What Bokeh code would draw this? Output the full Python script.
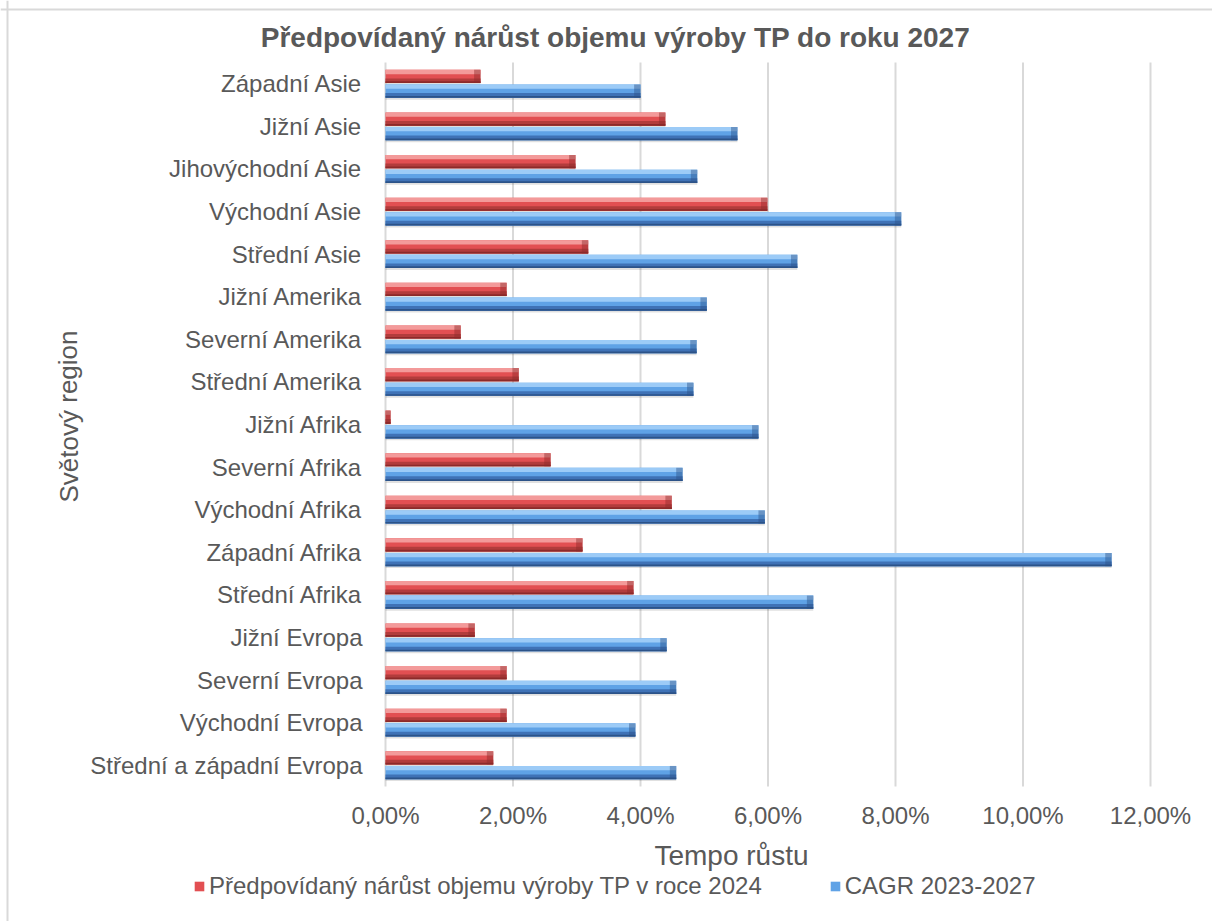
from bokeh.plotting import figure
from bokeh.models import (ColumnDataSource, Range1d, Legend, LegendItem, Label, Span)
from bokeh.core.properties import value
from bokeh.transform import dodge
from bokeh.embed import file_html
from bokeh.resources import INLINE

# ---- data (top to bottom as in the chart) ----
regions = ["Západní Asie", "Jižní Asie", "Jihovýchodní Asie", "Východní Asie", "Střední Asie",
           "Jižní Amerika", "Severní Amerika", "Střední Amerika", "Jižní Afrika", "Severní Afrika",
           "Východní Afrika", "Západní Afrika", "Střední Afrika", "Jižní Evropa", "Severní Evropa",
           "Východní Evropa", "Střední a západní Evropa"]
growth_2024 = [1.49, 4.39, 2.98, 5.99, 3.18, 1.90, 1.18, 2.09, 0.08, 2.59,
               4.49, 3.09, 3.89, 1.40, 1.90, 1.90, 1.69]
cagr_2023_2027 = [4.00, 5.52, 4.89, 8.09, 6.46, 5.04, 4.88, 4.83, 5.85, 4.66,
                  5.95, 11.39, 6.71, 4.41, 4.56, 3.92, 4.56]
x_ticks = [0, 2, 4, 6, 8, 10, 12]
x_tick_labels = ["0,00%", "2,00%", "4,00%", "6,00%", "8,00%", "10,00%", "12,00%"]

series_1 = "Předpovídaný nárůst objemu výroby TP v roce 2024"
series_2 = "CAGR 2023-2027"
title_text = "Předpovídaný nárůst objemu výroby TP do roku 2027"
x_title = "Tempo růstu"
y_title = "Světový region"

FONT = "Liberation Sans"
TXT = "#595959"
GRID = "#d9d9d9"

# ---- layout constants (pixels) ----
W, H = 1212, 921
PX0, PX12 = 385, 1150          # plot area left / right
PY_TOP, PY_BOT = 62, 786       # plot area top / bottom
X_MAX = 12.0
N = len(regions)
SX = (PX12 - PX0) / X_MAX      # px per percent
SY = (PY_BOT - PY_TOP) / N     # px per category

def xd(px):
    return (px - PX0) / SX

def yd(py):
    return (PY_BOT - py) / SY

ypos = [N - 0.5 - i for i in range(N)]

src = ColumnDataSource(dict(
    region=regions, y=ypos, g=growth_2024, c=cagr_2023_2027,
    g_tip=[max(0.0, v - 0.1) for v in growth_2024],
    c_tip=[max(0.0, v - 0.1) for v in cagr_2023_2027],
))

p = figure(width=W, height=H, output_backend="svg", toolbar_location=None,
           x_range=Range1d(xd(0), xd(W)), y_range=Range1d(yd(H), yd(0)),
           min_border=0, min_border_left=0, min_border_right=0,
           min_border_top=0, min_border_bottom=0)
p.axis.visible = False
p.grid.visible = False
p.outline_line_color = None
p.background_fill_color = "white"
p.border_fill_color = "white"

# chart border (top / left)
p.add_layout(Span(location=xd(7), dimension="height", line_color=GRID, line_width=2))
p.add_layout(Span(location=yd(9), dimension="width", line_color=GRID, line_width=2))

# vertical gridlines
grid_src = ColumnDataSource(dict(x=x_ticks, lab=x_tick_labels,
                                 y0=[0] * len(x_ticks), y1=[N] * len(x_ticks)))
p.segment(x0="x", x1="x", y0="y0", y1="y1", source=grid_src, line_color=GRID, line_width=2)

# x tick labels
p.text(x="x", y=yd(815), text="lab", source=grid_src, text_font=value(FONT),
       text_font_size="24px", text_color=TXT, text_align="center", text_baseline="middle")

# category labels
p.text(x=0, y="y", text="region", source=src, x_offset=-23, text_font=value(FONT),
       text_font_size="24px", text_color=TXT, text_align="right", text_baseline="middle")

BH = 0.31
OFF = 0.172

def bevel_bar(col, tip, off, light, mid, dark, darker):
    # soft shadow
    p.hbar(y=dodge("y", off - 0.045), right=col, left=0, height=BH,
           source=src, fill_color="#000000", fill_alpha=0.12, line_color=None)
    base = p.hbar(y=dodge("y", off), right=col, left=0, height=BH,
                  source=src, fill_color=mid, line_color=None)
    p.hbar(y=dodge("y", off + BH / 2 - 0.05), right=col, left=0, height=0.1,
           source=src, fill_color=light, line_color=None)
    p.hbar(y=dodge("y", off - BH / 2 + 0.055), right=col, left=0, height=0.11,
           source=src, fill_color=dark, line_color=None)
    p.hbar(y=dodge("y", off - BH / 2 + 0.02), right=col, left=0, height=0.04,
           source=src, fill_color=darker, line_color=None)
    p.hbar(y=dodge("y", off), right=col, left=tip, height=BH,
           source=src, fill_color=darker, fill_alpha=0.45, line_color=None)
    return base

r1 = bevel_bar("g", "g_tip", OFF, "#f39a9a", "#e24f52", "#b23c3c", "#8c2a2a")
r2 = bevel_bar("c", "c_tip", -OFF, "#9ccbf7", "#5fa2e6", "#3f72b6", "#2c5388")

# titles
p.add_layout(Label(x=xd(615), y=yd(37), text=title_text, text_font=FONT, text_font_size="28px",
                   text_font_style="bold", text_color=TXT, text_align="center",
                   text_baseline="middle"))
p.add_layout(Label(x=xd(731), y=yd(855), text=x_title, text_font=FONT, text_font_size="28px",
                   text_color=TXT, text_align="center", text_baseline="middle"))
p.add_layout(Label(x=xd(68), y=yd(416), text=y_title, text_font=FONT, text_font_size="26px",
                   text_color=TXT, text_align="center", text_baseline="middle", angle=1.5708))

legend = Legend(items=[LegendItem(label=series_1, renderers=[r1]),
                       LegendItem(label=series_2, renderers=[r2])],
                orientation="horizontal", location=(193, H - 900),
                glyph_width=12, glyph_height=12, label_height=24, label_standoff=4,
                spacing=67, padding=0, margin=0, border_line_color=None,
                background_fill_alpha=0,
                label_text_font=FONT, label_text_color=TXT, label_text_font_size="24px")
p.add_layout(legend)

open("out.html", "w").write(file_html(p, INLINE))
